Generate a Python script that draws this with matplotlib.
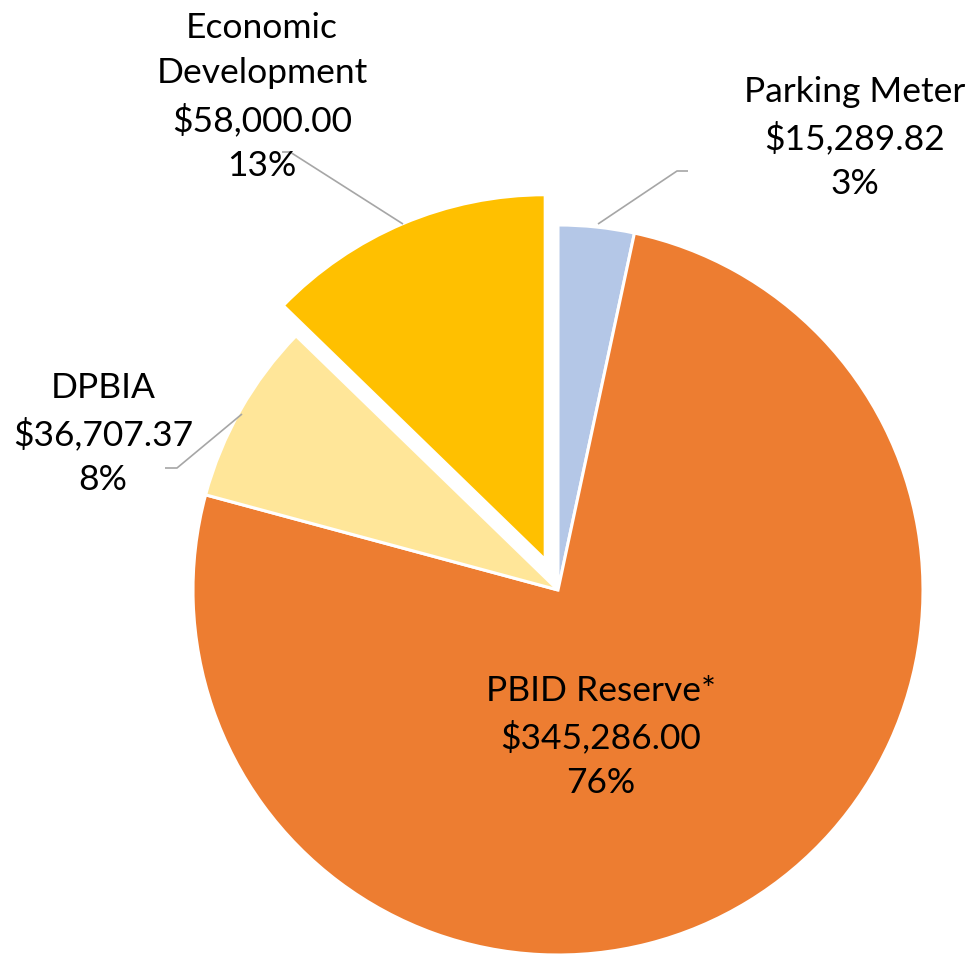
import matplotlib
matplotlib.use("Agg")
import matplotlib.pyplot as plt

categories = ["Parking Meter", "PBID Reserve*", "DPBIA", "Economic\nDevelopment"]
values = [15289.82, 345286.00, 36707.37, 58000.00]
pct_labels = ["3%", "76%", "8%", "13%"]
colors = ["#B4C7E7", "#ED7D31", "#FFE699", "#FFC000"]
explode = [0, 0, 0, 0.09]

W, H, DPI = 977, 958, 100
CX, CY, R = 558, 590, 365  # pixel centre / radius of the pie

def px(x, y):
    return ((x - CX) / R, (CY - y) / R)

fig = plt.figure(figsize=(W / DPI, H / DPI), dpi=DPI)
ax = fig.add_axes([0, 0, 1, 1])
ax.pie(values, colors=colors, startangle=90, counterclock=False, explode=explode,
       radius=1.0, wedgeprops=dict(edgecolor="white", linewidth=2.2))
ax.set_xlim(-CX / R, (W - CX) / R)
ax.set_ylim(-(H - CY) / R, CY / R)
ax.set_aspect("auto")
ax.axis("off")

font = dict(family=["Lato", "DejaVu Sans"], fontsize=25.5, color="black",
            ha="center", va="center", linespacing=1.5)

def money(v):
    return "${:,.2f}".format(v)

label_pos = [(855, 138), (601, 737), (103, 434), (262, 97)]
for cat, v, p, pos in zip(categories, values, pct_labels, label_pos):
    ax.text(*px(*pos), f"{cat}\n{money(v)}\n{p}", **font)

leaders = [
    [(598, 224), (677, 171), (688, 171)],
    [(403, 224), (290, 152), (282, 152)],
    [(242, 414), (177, 468), (165, 468)],
]
for pts in leaders:
    xs, ys = zip(*[px(*q) for q in pts])
    ax.plot(xs, ys, color="#A6A6A6", linewidth=1.2, solid_capstyle="butt")

fig.savefig("out.png", dpi=DPI)
